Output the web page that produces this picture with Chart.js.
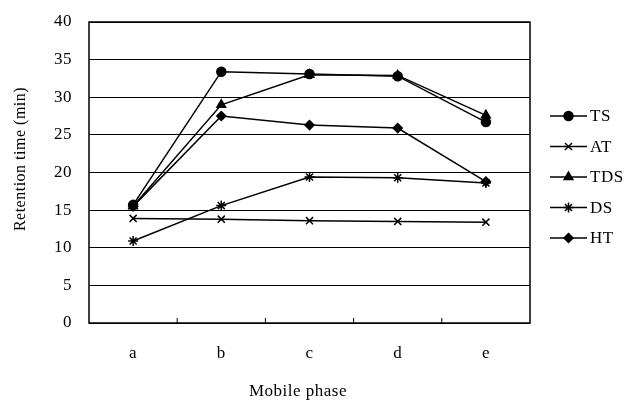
<!DOCTYPE html>
<html>
<head>
<meta charset="utf-8">
<script src="https://cdn.jsdelivr.net/npm/chart.js@4.4.1/dist/chart.umd.min.js"></script>
<style>
  html, body { margin: 0; padding: 0; background: #fff; }
  #wrap { width: 628px; height: 400px; }
</style>
</head>
<body>
<div id="wrap"><canvas id="chart" width="628" height="400"></canvas></div>
<script>
// mobile phases on the x axis
const phases = ['a', 'b', 'c', 'd', 'e'];

// retention times (min)
const tsValues  = [15.7, 33.4, 33.1, 32.8, 26.7];
const atValues  = [13.9, 13.8, 13.6, 13.5, 13.4];
const tdsValues = [15.5, 29.0, 33.0, 32.9, 27.6];
const dsValues  = [10.9, 15.6, 19.4, 19.3, 18.6];
const htValues  = [15.5, 27.5, 26.3, 25.9, 18.8];

const FONT = '"Liberation Serif", "DejaVu Serif", serif';
const SPACING = '0.5px';

const makeSet = (label, data, style, radius) => ({
  label: label,
  data: data,
  borderColor: '#000',
  backgroundColor: '#000',
  borderWidth: 1.5,
  pointStyle: style,
  pointRadius: radius,
  pointBorderWidth: 1.5,
  tension: 0
});

// the scanned text is a bit wider than Times, so open it up a little
const spacing = {
  id: 'spacing',
  beforeUpdate(chart) { chart.ctx.letterSpacing = SPACING; },
  beforeDraw(chart) { chart.ctx.letterSpacing = SPACING; }
};

// legend on the right: short line with the marker in the middle
const sideLegend = {
  id: 'sideLegend',
  afterDraw(chart) {
    const ctx = chart.ctx;
    const x0 = 550, x1 = 587;
    let y = 116;
    ctx.save();
    chart.data.datasets.forEach(ds => {
      ctx.strokeStyle = '#000';
      ctx.lineWidth = 1.5;
      ctx.beginPath();
      ctx.moveTo(x0, y);
      ctx.lineTo(x1, y);
      ctx.stroke();
      ctx.fillStyle = '#000';
      Chart.helpers.drawPoint(ctx, {
        pointStyle: ds.pointStyle, radius: ds.pointRadius,
        rotation: 0, borderWidth: 1.5
      }, (x0 + x1) / 2, y);
      ctx.fillStyle = '#000';
      ctx.font = '17px ' + FONT;
      ctx.textBaseline = 'middle';
      ctx.textAlign = 'left';
      ctx.fillText(ds.label, x1 + 3, y + 1);
      y += 30.5;
    });
    ctx.restore();
  }
};

// frame, inward ticks between categories and the two axis titles
const frame = {
  id: 'frame',
  afterDatasetsDraw(chart) {
    const { ctx, chartArea: a } = chart;
    const xs = chart.scales.x;
    ctx.save();
    ctx.strokeStyle = '#000';
    ctx.lineWidth = 1.5;
    ctx.strokeRect(a.left, a.top, a.right - a.left, a.bottom - a.top);
    const half = (xs.getPixelForValue(1) - xs.getPixelForValue(0)) / 2;
    ctx.lineWidth = 1;
    for (let i = 0; i < phases.length - 1; i++) {
      const px = xs.getPixelForValue(i) + half;
      ctx.beginPath();
      ctx.moveTo(px, a.bottom);
      ctx.lineTo(px, a.bottom - 5);
      ctx.stroke();
    }

    ctx.fillStyle = '#000';
    ctx.textAlign = 'center';
    ctx.textBaseline = 'middle';
    ctx.font = '17px ' + FONT;
    ctx.fillText('Mobile phase', 298, 392);

    ctx.translate(21, 159);
    ctx.rotate(-Math.PI / 2);
    ctx.font = '16px ' + FONT;
    ctx.fillText('Retention time (min)', 0, 0);
    ctx.restore();
  }
};

new Chart(document.getElementById('chart'), {
  type: 'line',
  data: {
    labels: phases,
    datasets: [
      makeSet('TS', tsValues, 'circle', 4.5),
      makeSet('AT', atValues, 'crossRot', 5),
      makeSet('TDS', tdsValues, 'triangle', 5),
      makeSet('DS', dsValues, 'star', 5),
      makeSet('HT', htValues, 'rectRot', 4.5)
    ]
  },
  options: {
    responsive: false,
    animation: false,
    layout: { padding: { left: 0, right: 98, top: 22, bottom: 0 } },
    plugins: {
      legend: { display: false },
      tooltip: { enabled: false }
    },
    scales: {
      x: {
        offset: true,
        grid: { display: false, drawTicks: false },
        border: { display: false },
        ticks: { color: '#000', font: { family: FONT, size: 17 }, padding: 20 },
        afterFit(scale) {
          scale.height = 77;
          scale.paddingLeft = 0;
          scale.paddingRight = 0;
        }
      },
      y: {
        min: 0,
        max: 40,
        ticks: { stepSize: 5, color: '#000', font: { family: FONT, size: 17 }, padding: 17 },
        grid: { color: '#000', lineWidth: 1, drawTicks: false },
        border: { display: false },
        afterFit(scale) {
          scale.width = 89;
          scale.paddingTop = 0;
          scale.paddingBottom = 0;
        }
      }
    }
  },
  plugins: [spacing, frame, sideLegend]
});
</script>
</body>
</html>
